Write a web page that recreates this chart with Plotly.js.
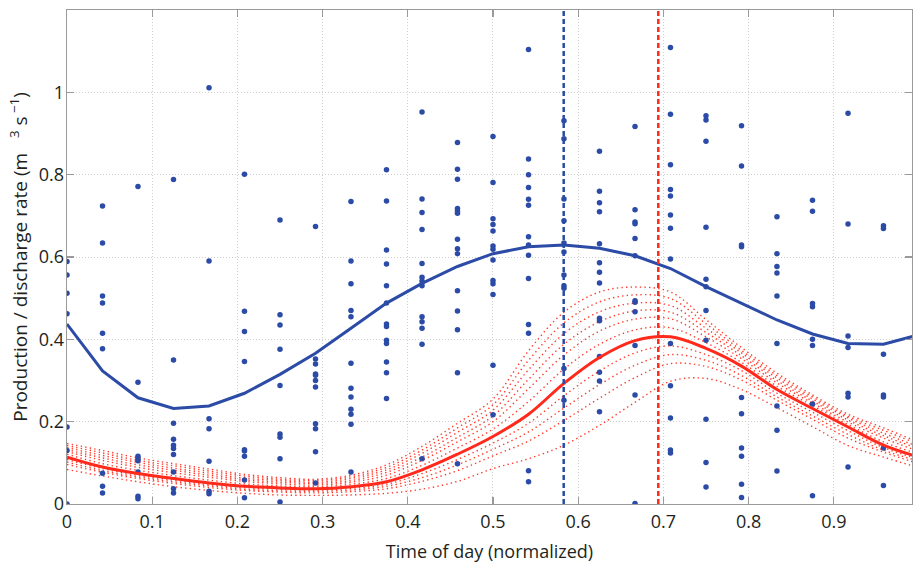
<!DOCTYPE html>
<html>
<head>
<meta charset="utf-8">
<script src="https://cdn.plot.ly/plotly-3.0.1.min.js"></script>
<style>html,body{margin:0;padding:0;background:#fff}#chart{width:913px;height:566px}</style>
</head>
<body>
<div id="chart"></div>
<script>
// Hourly time grid (normalized time of day)
const timeX = [0,0.0417,0.0833,0.125,0.1667,0.2083,0.25,0.2917,0.3333,0.375,0.4167,0.4583,0.5,0.5417,0.5833,0.625,0.6667,0.7083,0.75,0.7917,0.8333,0.875,0.9167,0.9583,1.0];

// Observed discharge, one list per hour
const obsRate = [
  [0.589,0.556,0.512,0.462,0.187,0.130,0.0],
  [0.724,0.634,0.505,0.488,0.415,0.377,0.075,0.043,0.027],
  [0.771,0.296,0.116,0.110,0.105,0.078,0.019,0.013],
  [0.788,0.350,0.196,0.157,0.143,0.135,0.120,0.078,0.037,0.027],
  [1.011,0.590,0.207,0.183,0.104,0.031,0.025],
  [0.801,0.468,0.419,0.346,0.132,0.129,0.116,0.058,0.015],
  [0.690,0.460,0.435,0.376,0.288,0.170,0.162,0.110,0.005],
  [0.674,0.352,0.340,0.316,0.313,0.300,0.284,0.195,0.183,0.127,0.051],
  [0.735,0.590,0.535,0.470,0.455,0.342,0.281,0.260,0.230,0.218,0.194,0.078],
  [0.812,0.736,0.617,0.583,0.530,0.488,0.437,0.431,0.398,0.390,0.345,0.319,0.256],
  [0.952,0.741,0.708,0.667,0.584,0.551,0.542,0.530,0.455,0.443,0.427,0.388,0.110],
  [0.878,0.813,0.789,0.718,0.712,0.706,0.643,0.620,0.608,0.518,0.469,0.423,0.319,0.098],
  [0.893,0.781,0.693,0.679,0.663,0.627,0.619,0.593,0.543,0.535,0.509,0.337,0.217],
  [1.104,0.838,0.800,0.769,0.740,0.726,0.649,0.629,0.604,0.548,0.436,0.415,0.081,0.054],
  [0.931,0.887,0.741,0.688,0.634,0.612,0.556,0.530,0.524,0.329,0.252],
  [0.857,0.760,0.732,0.710,0.632,0.586,0.563,0.537,0.451,0.445,0.358,0.320,0.299,0.224],
  [0.917,0.715,0.685,0.681,0.645,0.603,0.494,0.490,0.467,0.385,0.265,0.001],
  [1.109,0.947,0.824,0.764,0.748,0.702,0.670,0.595,0.390,0.287,0.209,0.131,0.124],
  [0.943,0.933,0.881,0.672,0.546,0.528,0.470,0.398,0.206,0.101,0.041],
  [0.919,0.821,0.629,0.625,0.259,0.219,0.136,0.116,0.048,0.016],
  [0.698,0.608,0.577,0.561,0.505,0.390,0.238,0.179,0.080],
  [0.738,0.711,0.487,0.479,0.400,0.385,0.243,0.020],
  [0.949,0.680,0.408,0.380,0.269,0.260,0.090],
  [0.676,0.669,0.364,0.265,0.260,0.136,0.045]
];

// Hourly mean discharge (blue line)
const meanDischarge = [0.437,0.323,0.258,0.232,0.238,0.269,0.315,0.366,0.427,0.488,0.536,0.577,0.608,0.625,0.629,0.621,0.603,0.572,0.528,0.488,0.447,0.413,0.390,0.388,0.411];

// Modelled production (red solid line)
const prodMain = [0.114,0.090,0.074,0.062,0.051,0.043,0.039,0.037,0.042,0.054,0.083,0.121,0.164,0.218,0.293,0.356,0.397,0.406,0.378,0.335,0.278,0.232,0.187,0.143,0.114];

// Ensemble members (red dotted lines)
const ens1 = [0.147,0.130,0.112,0.098,0.085,0.072,0.064,0.060,0.070,0.095,0.140,0.196,0.255,0.372,0.466,0.515,0.527,0.515,0.448,0.380,0.318,0.265,0.218,0.185,0.150];
const ens2 = [0.142,0.124,0.106,0.093,0.080,0.068,0.060,0.057,0.066,0.089,0.131,0.185,0.241,0.349,0.440,0.491,0.508,0.499,0.438,0.373,0.312,0.260,0.213,0.179,0.145];
const ens3 = [0.137,0.118,0.101,0.087,0.075,0.063,0.057,0.053,0.062,0.083,0.123,0.174,0.228,0.326,0.414,0.467,0.488,0.482,0.427,0.367,0.306,0.255,0.209,0.172,0.139];
const ens4 = [0.132,0.112,0.095,0.082,0.070,0.059,0.053,0.050,0.057,0.077,0.114,0.162,0.214,0.303,0.388,0.443,0.469,0.466,0.417,0.360,0.300,0.250,0.204,0.166,0.134];
const ens5 = [0.127,0.106,0.089,0.076,0.065,0.055,0.049,0.046,0.053,0.070,0.106,0.151,0.200,0.280,0.362,0.420,0.449,0.450,0.406,0.353,0.294,0.245,0.199,0.160,0.128];
const ens6 = [0.121,0.098,0.082,0.069,0.058,0.049,0.044,0.042,0.048,0.062,0.094,0.136,0.182,0.249,0.328,0.388,0.423,0.428,0.392,0.344,0.286,0.239,0.193,0.151,0.121];
const ens7 = [0.108,0.086,0.070,0.058,0.047,0.040,0.036,0.034,0.038,0.048,0.074,0.108,0.148,0.196,0.263,0.323,0.367,0.384,0.363,0.324,0.269,0.223,0.178,0.137,0.109];
const ens8 = [0.102,0.081,0.066,0.054,0.044,0.036,0.032,0.031,0.034,0.043,0.064,0.095,0.133,0.175,0.233,0.290,0.337,0.363,0.349,0.312,0.260,0.214,0.169,0.131,0.104];
const ens9 = [0.096,0.077,0.062,0.050,0.040,0.033,0.029,0.027,0.030,0.037,0.055,0.081,0.117,0.153,0.203,0.257,0.307,0.341,0.334,0.301,0.252,0.206,0.160,0.126,0.098];
const ens10 = [0.084,0.068,0.054,0.042,0.033,0.026,0.022,0.021,0.022,0.026,0.036,0.055,0.086,0.110,0.143,0.191,0.247,0.298,0.305,0.278,0.234,0.188,0.142,0.114,0.088];

// Peak times (vertical dashed lines)
const peakDischarge = 0.583;
const peakProduction = 0.694;

const xTicks = [0,0.1,0.2,0.3,0.4,0.5,0.6,0.7,0.8,0.9];
const yTicks = [0,0.2,0.4,0.6,0.8,1];

const BLUE = '#2b4ba6';
const RED = '#ff2a1c';

const traces = [];
[ens1,ens2,ens3,ens4,ens5,ens6,ens7,ens8,ens9,ens10].forEach(e => {
  traces.push({x: timeX, y: e, mode: 'lines', type: 'scatter', hoverinfo: 'skip',
    line: {color: '#ff3b2b', width: 1.4, dash: '1.4px,3.2px', shape: 'spline', smoothing: 1}});
});
const ox = [], oy = [];
obsRate.forEach((col, h) => col.forEach(v => { ox.push(timeX[h]); oy.push(v); }));
traces.push({x: ox, y: oy, mode: 'markers', type: 'scatter',
  marker: {color: BLUE, size: 5.5, line: {width: 0}}});
traces.push({x: timeX, y: meanDischarge, mode: 'lines', type: 'scatter',
  line: {color: BLUE, width: 3}});
traces.push({x: timeX, y: prodMain, mode: 'lines', type: 'scatter',
  line: {color: RED, width: 3, shape: 'spline', smoothing: 1}});
traces.push({x: [peakDischarge, peakDischarge], y: [0, 1.2], mode: 'lines', type: 'scatter',
  line: {color: BLUE, width: 2.5, dash: '5px,3px'}});
traces.push({x: [peakProduction, peakProduction], y: [0, 1.2], mode: 'lines', type: 'scatter',
  line: {color: RED, width: 2.5, dash: '5px,3px'}});

const FONT = 'Open Sans, Noto Sans, sans-serif';
const TXT = '#231f20';
const axisCommon = {
  showline: true, linecolor: '#9a9a9a', linewidth: 1.3, mirror: 'ticks',
  ticks: 'inside', ticklen: 7, tickcolor: '#9a9a9a', tickwidth: 1.3,
  showgrid: true, gridcolor: '#cfcfcf', griddash: '1px,2px', gridwidth: 1,
  zeroline: false, tickfont: {family: FONT, size: 18, color: TXT}
};

const layout = {
  width: 913, height: 566,
  margin: {l: 67, r: 1, t: 10, b: 62},
  paper_bgcolor: '#fff', plot_bgcolor: '#fff',
  showlegend: false,
  xaxis: Object.assign({}, axisCommon, {
    range: [0, 0.9918], tickvals: xTicks, ticktext: xTicks.map(String),
    ticklabelstandoff: 1,
    title: {text: 'Time of day (normalized)', font: {family: FONT, size: 18, color: TXT}, standoff: 13}
  }),
  yaxis: Object.assign({}, axisCommon, {
    range: [0, 1.2], tickvals: yTicks, ticktext: yTicks.map(String),
    ticklabelstandoff: -2,
    title: {text: 'Production / discharge rate (m\u00a0\u00a0\u00a0<sup>3</sup> s<sup>\u00a0\u22121</sup>)', font: {family: FONT, size: 19, color: TXT}, standoff: 6}
  })
};

Plotly.newPlot('chart', traces, layout, {displayModeBar: false, staticPlot: true});
</script>
</body>
</html>
